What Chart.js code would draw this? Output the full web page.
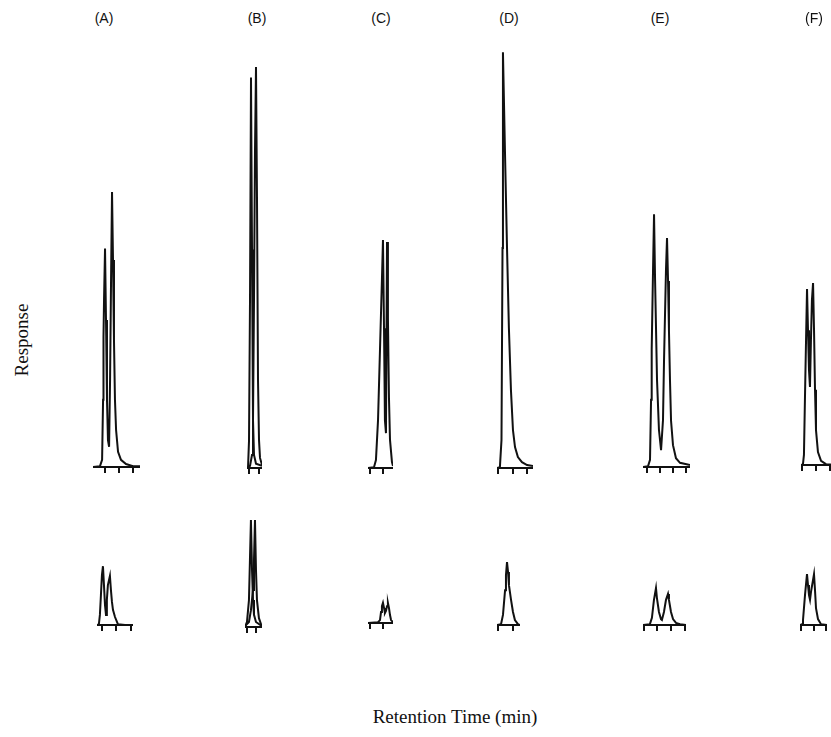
<!DOCTYPE html>
<html>
<head>
<meta charset="utf-8">
<script src="https://cdn.jsdelivr.net/npm/chart.js@4"></script>
<style>
  html, body { margin: 0; padding: 0; background: #fff; }
  #page { position: relative; width: 831px; height: 737px; overflow: hidden; background: #fff; }
  #page canvas { position: absolute; }
  .panel-label { position: absolute; font-family: "Liberation Sans", Arial, sans-serif; font-size: 14px; color: #111; transform: translateX(-50%); }
  .axis-title { position: absolute; font-family: "Liberation Serif", "Times New Roman", serif; font-size: 19px; color: #111; white-space: nowrap; }
</style>
</head>
<body>
<div id="page"></div>
<script>
// Panel labels
const panelLabels = ["(A)", "(B)", "(C)", "(D)", "(E)", "(F)"];
const xTitle = "Retention Time (min)";
const yTitle = "Response";

// Top row traces (time in min, response in arbitrary units)
const aTopTime = [0.14, 0.64, 0.79, 0.86, 0.89, 0.93, 1.0, 1.07, 1.14, 1.21, 1.29, 1.36, 1.43, 1.5, 1.57, 1.64, 1.71, 1.79, 1.93, 2.14, 2.5, 3.0, 3.5];
const aTopResp = [0, 0.2, 1.7, 16, 31, 40, 52, 35, 16, 6.4, 4.8, 20.7, 44.5, 65.5, 49.3, 30.2, 16, 8.8, 3.6, 1.7, 0.7, 0.2, 0.2];
const aTopTicks = [1, 2, 3];

const bTopTime1 = [0.8, 0.9, 1.0, 1.1, 1.2, 1.3, 1.4, 1.5, 1.7, 2.3];
const bTopResp1 = [0, 0, 6.4, 40, 93, 52, 11.4, 3.1, 1, 0.5];
const bTopTime2 = [0.8, 1.1, 1.3, 1.4, 1.5, 1.6, 1.7, 1.8, 1.9, 2.0, 2.1, 2.3];
const bTopResp2 = [0, 0.5, 3.1, 11.4, 40, 75.7, 95.5, 63.8, 21, 6.7, 2.4, 0.7];
const bTopTicks = [1, 2];

const cTopTime = [0.85, 1.31, 1.46, 1.62, 1.77, 1.92, 2.0, 2.08, 2.15, 2.23, 2.31, 2.38, 2.46, 2.54, 2.69, 2.77];
const cTopResp = [0, 0.2, 1.9, 11.4, 28.1, 44.8, 54.3, 33.3, 11.4, 8.3, 53.8, 35.7, 16.7, 6.7, 1.4, 0.5];
const cTopTicks = [1, 2];

const dTopTime = [0.9, 1.1, 1.21, 1.28, 1.31, 1.45, 1.59, 1.72, 1.86, 2.0, 2.14, 2.34, 2.62, 2.97, 3.38];
const dTopResp = [0, 0.2, 6.7, 52.4, 99, 75.2, 52.4, 33.3, 18.6, 9.0, 5.0, 2.6, 1.4, 0.7, 0.5];
const dTopTicks = [1, 2, 3];

const eTopTime = [0.69, 1.08, 1.23, 1.31, 1.36, 1.46, 1.54, 1.62, 1.77, 1.92, 2.08, 2.15, 2.23, 2.31, 2.46, 2.54, 2.62, 2.69, 2.77, 2.85, 3.0, 3.23, 3.54, 4.31];
const eTopResp = [0, 0.2, 1.7, 16, 27.9, 46.4, 60.2, 44.5, 20.7, 8.8, 4.0, 4.0, 11.2, 25.5, 46.9, 54.5, 44.3, 32.4, 20.5, 11.0, 5.2, 2.1, 1.0, 0.5];
const eTopTicks = [1, 2, 3, 4];

const fTopTime = [0.93, 1.07, 1.14, 1.21, 1.29, 1.36, 1.43, 1.5, 1.57, 1.64, 1.71, 1.79, 1.86, 1.93, 2.0, 2.14, 2.36, 2.71, 3.57];
const fTopResp = [0, 0.2, 2.4, 15.5, 29.8, 41.9, 32.1, 22.6, 18.6, 29.8, 39.3, 43.3, 32.1, 17.9, 8.3, 3.1, 1.0, 0.2, 0];
const fTopTicks = [1, 2, 3];

// Bottom row traces
const aBotTime = [0.66, 0.79, 0.86, 0.93, 1.0, 1.07, 1.14, 1.21, 1.28, 1.34, 1.41, 1.55, 1.62, 1.69, 1.76, 1.9, 2.1, 2.59, 3.14];
const aBotResp = [0, 0.2, 2.4, 7.1, 11.9, 14.0, 9.5, 4.8, 2.4, 6.0, 9.5, 11.7, 8.3, 5.5, 3.6, 1.9, 0.2, 0, 0];
const aBotTicks = [1, 2, 3];

const bBotTime1 = [0.78, 1.0, 1.22, 1.33, 1.44, 1.56, 1.67, 1.78, 2.0, 2.67];
const bBotResp1 = [0, 1.2, 6.4, 16, 25.5, 13.6, 6.4, 2.9, 1.2, 0.2];
const bBotTime2 = [0.78, 1.22, 1.44, 1.67, 1.78, 1.89, 2.0, 2.11, 2.33, 2.67];
const bBotResp2 = [0.2, 1.2, 4.0, 8.8, 16, 25.5, 13.6, 6.4, 2.1, 0];
const bBotTicks = [1, 2];

const cBotTime = [0.85, 1.62, 1.77, 1.85, 1.92, 2.0, 2.08, 2.15, 2.23, 2.31, 2.38, 2.46, 2.54, 2.62, 2.77];
const cBotResp = [0, 0.2, 0.7, 2.6, 4.0, 4.8, 3.6, 2.4, 2.9, 4.0, 4.8, 3.6, 1.9, 0.7, 0.2];
const cBotTicks = [1, 2];

const dBotTime = [0.93, 1.2, 1.33, 1.47, 1.53, 1.6, 1.67, 1.73, 1.87, 2.0, 2.13, 2.33, 2.47];
const dBotResp = [0, 0.2, 2.4, 8.3, 11.9, 15, 12.6, 9.5, 6.0, 3.1, 1.2, 0.2, 0];
const dBotTicks = [1, 2];

const eBotTime = [0.93, 1.44, 1.59, 1.74, 1.89, 1.96, 2.11, 2.26, 2.33, 2.48, 2.63, 2.78, 2.85, 3.0, 3.15, 3.37, 3.67, 4.11];
const eBotResp = [0, 0.2, 1.7, 6.0, 8.8, 6.4, 3.1, 1.4, 1.2, 3.1, 6.0, 7.4, 6.0, 3.1, 1.4, 0.5, 0.2, 0];
const eBotTicks = [1, 2, 3, 4];

const fBotTime = [0.92, 1.08, 1.16, 1.32, 1.48, 1.56, 1.64, 1.72, 1.8, 1.96, 2.04, 2.12, 2.2, 2.36, 2.6, 3.08];
const fBotResp = [0, 0.2, 1.2, 7.1, 12.1, 9.5, 7.1, 6.0, 7.9, 10.7, 12.1, 8.3, 4.0, 1.4, 0.2, 0];
const fBotTicks = [1, 2, 3];

// Layout
const PX_PER_UNIT = 4.2;
const TICK_LEN = 6;
const page = document.getElementById("page");

const panels = [
  { traces: [[aTopTime, aTopResp]], ticks: aTopTicks, left: 93, right: 140, base: 467, tMin: 0.14, tMax: 3.5, yMax: 105 },
  { traces: [[bTopTime1, bTopResp1], [bTopTime2, bTopResp2]], ticks: bTopTicks, left: 247, right: 262, base: 468, tMin: 0.8, tMax: 2.3, yMax: 105 },
  { traces: [[cTopTime, cTopResp]], ticks: cTopTicks, left: 368, right: 393, base: 468, tMin: 0.85, tMax: 2.77, yMax: 105 },
  { traces: [[dTopTime, dTopResp]], ticks: dTopTicks, left: 497, right: 533, base: 468, tMin: 0.9, tMax: 3.38, yMax: 105 },
  { traces: [[eTopTime, eTopResp]], ticks: eTopTicks, left: 643, right: 690, base: 467, tMin: 0.69, tMax: 4.31, yMax: 105 },
  { traces: [[fTopTime, fTopResp]], ticks: fTopTicks, left: 801, right: 838, base: 465, tMin: 0.93, tMax: 3.57, yMax: 105 },
  { traces: [[aBotTime, aBotResp]], ticks: aBotTicks, left: 97, right: 133, base: 625, tMin: 0.66, tMax: 3.14, yMax: 30 },
  { traces: [[bBotTime1, bBotResp1], [bBotTime2, bBotResp2]], ticks: bBotTicks, left: 245, right: 262, base: 627, tMin: 0.78, tMax: 2.67, yMax: 30 },
  { traces: [[cBotTime, cBotResp]], ticks: cBotTicks, left: 368, right: 393, base: 623, tMin: 0.85, tMax: 2.77, yMax: 30 },
  { traces: [[dBotTime, dBotResp]], ticks: dBotTicks, left: 497, right: 520, base: 625, tMin: 0.93, tMax: 2.47, yMax: 30 },
  { traces: [[eBotTime, eBotResp]], ticks: eBotTicks, left: 643, right: 686, base: 625, tMin: 0.93, tMax: 4.11, yMax: 30 },
  { traces: [[fBotTime, fBotResp]], ticks: fBotTicks, left: 800, right: 827, base: 625, tMin: 0.92, tMax: 3.08, yMax: 30 }
];

function makePanel(p) {
  const plotH = Math.round(p.yMax * PX_PER_UNIT);
  const w = p.right - p.left;
  const h = plotH + TICK_LEN;
  const canvas = document.createElement("canvas");
  canvas.width = w;
  canvas.height = h;
  canvas.style.width = w + "px";
  canvas.style.height = h + "px";
  canvas.style.left = p.left + "px";
  canvas.style.top = (p.base - plotH) + "px";
  page.appendChild(canvas);

  new Chart(canvas, {
    type: "line",
    data: {
      datasets: p.traces.map(([times, resp]) => ({
        data: times.map((t, i) => ({ x: t, y: resp[i] })),
        borderColor: "#111",
        borderWidth: 2,
        pointRadius: 0,
        tension: 0,
        fill: false
      }))
    },
    options: {
      responsive: false,
      animation: false,
      devicePixelRatio: 1,
      events: [],
      layout: { padding: 0 },
      plugins: { legend: { display: false }, tooltip: { enabled: false } },
      scales: {
        x: {
          type: "linear",
          min: p.tMin,
          max: p.tMax,
          afterBuildTicks: (scale) => { scale.ticks = p.ticks.map(v => ({ value: v })); },
          ticks: { display: false },
          grid: { drawOnChartArea: false, drawTicks: true, tickLength: TICK_LEN, color: "#111", lineWidth: 2 },
          border: { display: true, color: "#111", width: 2 }
        },
        y: { display: false, min: 0, max: p.yMax }
      }
    }
  });
}

panels.forEach(makePanel);

// Panel labels
const labelX = [104, 257, 381, 509, 660, 814];
panelLabels.forEach((txt, i) => {
  const el = document.createElement("div");
  el.className = "panel-label";
  el.textContent = txt;
  el.style.left = labelX[i] + "px";
  el.style.top = "10px";
  page.appendChild(el);
});

// Axis titles
const xt = document.createElement("div");
xt.className = "axis-title";
xt.textContent = xTitle;
xt.style.left = "455px";
xt.style.top = "706px";
xt.style.transform = "translateX(-50%)";
page.appendChild(xt);

const yt = document.createElement("div");
yt.className = "axis-title";
yt.textContent = yTitle;
yt.style.left = "22px";
yt.style.top = "340px";
yt.style.transform = "translate(-50%, -50%) rotate(-90deg)";
page.appendChild(yt);
</script>
</body>
</html>
